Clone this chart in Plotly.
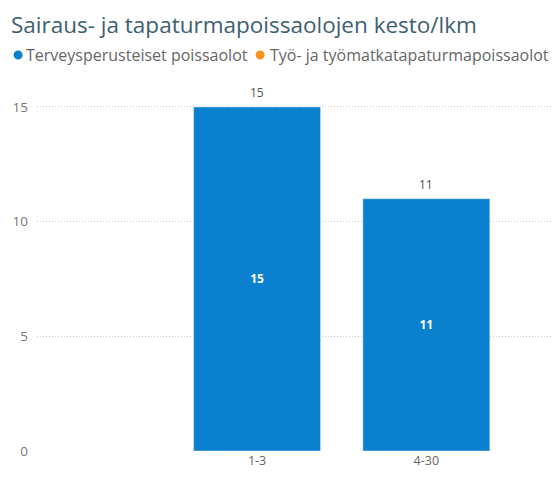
import plotly.graph_objects as go

categories = ["1-3", "4-30"]
terveys = [15, 11]
tyo = [0, 0]
series_names = ["Terveysperusteiset poissaolot", "Työ- ja työmatkatapaturmapoissaolot"]
series_colors = ["#0B80CF", "#F7931E"]
title_text = "Sairaus- ja tapaturmapoissaolojen kesto/lkm"
yticks = [0, 5, 10, 15]

totals = [a + b for a, b in zip(terveys, tyo)]

W, H = 552, 471
L, R, T, B = 27, 5, 76, 28
plot_w = W - L - R
plot_h = H - T - B


def px(fx):
    return (fx - L) / plot_w


def py(fy):
    return 1 + (T - fy) / plot_h


fig = go.Figure()
fig.add_trace(go.Bar(
    x=categories, y=terveys, name=series_names[0], marker_color=series_colors[0],
    width=0.75, text=[str(v) for v in terveys], textposition="inside",
    insidetextanchor="middle", textangle=0,
    textfont=dict(color="white", size=12, family="Open Sans", weight="bold"),
    showlegend=False, hoverinfo="x+y",
))
for c, t in zip(categories, totals):
    fig.add_annotation(x=c, y=t, text=str(t), showarrow=False, yanchor="middle",
                       yshift=14, font=dict(color="#555555", size=12, family="Open Sans"))

# Legend drawn as circles + text (figure pixel positions)
leg_dot_x = [8, 251]
leg_text_x = [14, 259]
leg_y = 47
r = 4.5
for i, (nm, col) in enumerate(zip(series_names, series_colors)):
    fig.add_shape(type="circle", xref="paper", yref="paper",
                  x0=px(leg_dot_x[i] - r), x1=px(leg_dot_x[i] + r),
                  y0=py(leg_y + r), y1=py(leg_y - r),
                  fillcolor=col, line_width=0)
    fig.add_annotation(
        xref="paper", yref="paper", x=px(leg_text_x[i]), y=py(leg_y),
        xanchor="left", yanchor="middle", text=nm, showarrow=False,
        font=dict(size=16, color="#666666", family="Open Sans"),
    )

fig.update_layout(
    width=W, height=H,
    margin=dict(l=L, r=R, t=T, b=B),
    paper_bgcolor="white", plot_bgcolor="white",
    title=dict(text=title_text, x=3 / W, xanchor="left", y=1 - 17 / H, yanchor="middle",
               font=dict(size=22.5, color="#3E6070", family="Open Sans")),
    xaxis=dict(range=[-1.3, 1.76], showgrid=False, zeroline=False, showline=False,
               tickfont=dict(size=12.5, color="#666666", family="Open Sans"), ticks=""),
    yaxis=dict(range=[0, 16], tickvals=yticks, showgrid=True, gridcolor="#C8C8C8",
               griddash="1px,2px", gridwidth=1, zeroline=False, showline=False,
               tickfont=dict(size=13.5, color="#777777", family="Open Sans"),
               ticklabelstandoff=8),
    bargap=0.25,
)
fig.write_html("out.html")
